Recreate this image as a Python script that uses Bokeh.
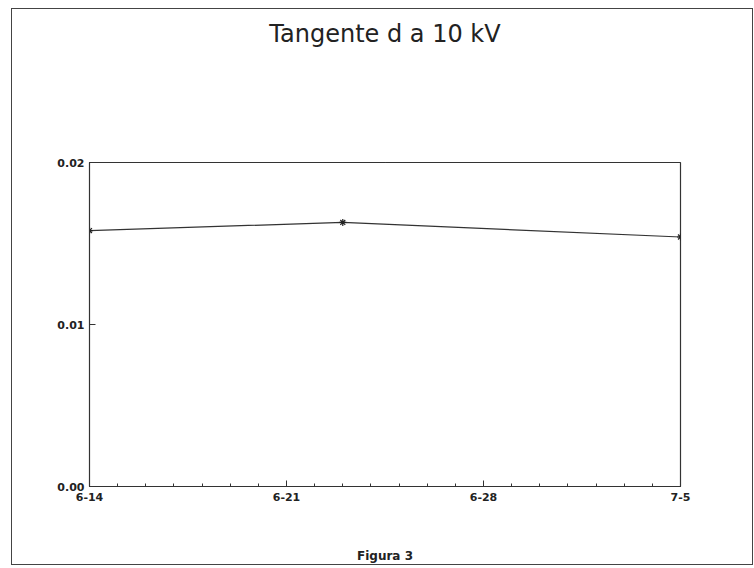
from bokeh.plotting import figure
from bokeh.models import FixedTicker, Title, Range1d, LinearAxis
from bokeh.embed import file_html
from bokeh.resources import INLINE

# data: days after 6-14, tan delta at 10 kV
days = [0, 9, 21]
tan_delta = [0.0158, 0.0163, 0.0154]

x_tick_pos = [0, 7, 14, 21]
x_tick_labels = ["6-14", "6-21", "6-28", "7-5"]
x_minor_pos = list(range(0, 22))
y_ticks = [0.0, 0.01, 0.02]
y_tick_labels = ["0.00", "0.01", "0.02"]

W, H = 742, 557
p = figure(width=W, height=H, output_backend="svg", toolbar_location=None,
           x_range=Range1d(0, 21), y_range=Range1d(0, 0.02),
           min_border_left=77, min_border_right=74, min_border_top=153, min_border_bottom=80)
p.styles = {"border": "1.5px solid #444", "box-sizing": "border-box",
            "margin-left": "11px", "margin-top": "8px"}
p.grid.visible = False
p.outline_line_color = "#333333"
p.outline_line_width = 1.2

p.xaxis.ticker = FixedTicker(ticks=x_tick_pos, minor_ticks=x_minor_pos)
p.xaxis.major_label_overrides = {t: l for t, l in zip(x_tick_pos, x_tick_labels)}
p.yaxis.ticker = FixedTicker(ticks=y_ticks, minor_ticks=[])
p.yaxis.major_label_overrides = {t: l for t, l in zip(y_ticks, y_tick_labels)}
for ax in (p.xaxis, p.yaxis):
    ax.axis_line_color = "#333333"
    ax.major_tick_in = 6
    ax.major_tick_out = 0
    ax.minor_tick_in = 3
    ax.minor_tick_out = 0
    ax.major_tick_line_color = "#333333"
    ax.minor_tick_line_color = "#333333"
    ax.major_label_text_font = "DejaVu Sans"
    ax.major_label_text_font_style = "bold"
    ax.major_label_text_font_size = "11px"
    ax.major_label_text_color = "#222222"
p.xaxis.major_label_standoff = 6
p.yaxis.major_label_standoff = 5

p.line(days, tan_delta, line_color="#333333", line_width=1.2)
p.scatter(days, tan_delta, marker="asterisk", size=7, line_color="#222222", line_width=1.2)


def spacer(size):
    # an axis with one white tick, used only to reserve space in a side panel
    a = LinearAxis(ticker=FixedTicker(ticks=[10.5], minor_ticks=[]))
    a.axis_line_color = None
    a.major_tick_line_color = "white"
    a.major_tick_line_width = 0.1
    a.minor_tick_line_color = None
    a.major_tick_in = 0
    a.major_tick_out = size
    a.minor_tick_out = 0
    a.major_label_standoff = 0
    a.major_label_text_font_size = "1px"
    a.major_label_overrides = {10.5: ""}
    return a


p.add_layout(spacer(110), "above")
p.add_layout(Title(text="Tangente d a 10 kV", align="center", standoff=10,
                   text_font="DejaVu Sans", text_font_style="normal",
                   text_font_size="24px", text_color="#222222"), "above")
p.add_layout(spacer(41), "below")
p.add_layout(Title(text="Figura 3", align="center", standoff=4,
                   text_font="DejaVu Sans", text_font_style="bold",
                   text_font_size="12px", text_color="#222222"), "below")

open("out.html", "w").write(file_html(p, INLINE))
